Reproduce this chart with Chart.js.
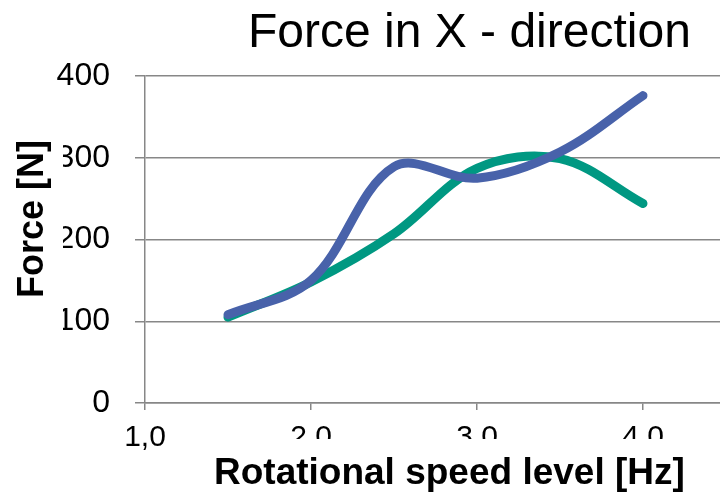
<!DOCTYPE html>
<html>
<head>
<meta charset="utf-8">
<script src="https://cdn.jsdelivr.net/npm/chart.js@4/dist/chart.umd.min.js"></script>
<style>
  body { margin: 0; background: #fff; }
  canvas { display: block; }
</style>
</head>
<body>
<canvas id="myChart" width="720" height="496"></canvas>
<script>
// datos
const speedLevels = [1.5, 2.0, 2.5, 3.0, 3.5, 4.0];
const forceBlue = [108, 150, 289, 275, 307, 376];
const forceTeal = [105, 148, 207, 287, 299, 244];

const xTickValues = [1, 2, 3, 4];
const xTickLabels = ["1,0", "2,0", "3,0", "4,0"];
const yTickValues = [0, 100, 200, 300, 400];

const chartTitle = "Force in X - direction";
const xTitle = "Rotational speed level [Hz]";
const yTitle = "Force [N]";

const grey = "#878787";
const fontFam = "'Liberation Sans', Arial, sans-serif";

// titulos dibujados encima (con su caja blanca como en el original)
const titlesPlugin = {
    id: "titles",
    afterDraw(chart) {
        const c = chart.ctx;
        c.save();
        c.fillStyle = "#fff";
        c.fillRect(0, 128, 63, 212);
        c.fillRect(166, 439, 554, 57);
        c.fillStyle = "#000";
        c.textBaseline = "alphabetic";
        c.textAlign = "left";
        c.font = "normal 48px " + fontFam;
        c.fillText(chartTitle, 248, 47);
        c.font = "bold 37px " + fontFam;
        c.fillText(xTitle, 214, 484);
        c.font = "bold 36px " + fontFam;
        c.translate(43, 219);
        c.rotate(-Math.PI / 2);
        c.textAlign = "center";
        c.fillText(yTitle, 0, 0);
        c.restore();
    }
};

const ctx = document.getElementById("myChart").getContext("2d");
const chart = new Chart(ctx, {
    type: "line",
    data: {
        datasets: [
            {
                label: "blue",
                data: speedLevels.map((x, i) => ({ x: x, y: forceBlue[i] })),
                borderColor: "#4862aa",
                borderWidth: 9,
                borderCapStyle: "round",
                borderJoinStyle: "round",
                pointRadius: 0,
                tension: 0.35,
                fill: false
            },
            {
                label: "teal",
                data: speedLevels.map((x, i) => ({ x: x, y: forceTeal[i] })),
                borderColor: "#009882",
                borderWidth: 9,
                borderCapStyle: "round",
                borderJoinStyle: "round",
                pointRadius: 0,
                tension: 0.35,
                fill: false
            }
        ]
    },
    options: {
        responsive: false,
        animation: false,
        devicePixelRatio: 1,
        layout: { padding: { top: 76, left: 0, right: 0, bottom: 0 } },
        plugins: {
            legend: { display: false },
            tooltip: { enabled: false },
            title: { display: false }
        },
        scales: {
            x: {
                type: "linear",
                min: 1,
                max: 4.464,
                afterFit: (s) => { s.height = 93; },
                afterBuildTicks: (s) => { s.ticks = xTickValues.map(v => ({ value: v })); },
                border: { color: grey, width: 1.5 },
                grid: { drawOnChartArea: false, drawTicks: true, tickLength: 7, color: grey, lineWidth: 1.5 },
                ticks: {
                    padding: 10,
                    color: "#000",
                    font: { family: fontFam, size: 30 },
                    maxRotation: 0,
                    callback: (v) => xTickLabels[xTickValues.indexOf(v)]
                }
            },
            y: {
                min: 0,
                max: 400,
                afterFit: (s) => { s.width = 145; },
                afterBuildTicks: (s) => { s.ticks = yTickValues.map(v => ({ value: v })); },
                border: { color: grey, width: 1.5 },
                grid: { color: grey, lineWidth: 1.5, drawTicks: true, tickLength: 10 },
                ticks: {
                    padding: 25,
                    color: "#000",
                    font: { family: fontFam, size: 32 }
                }
            }
        }
    },
    plugins: [titlesPlugin]
});
</script>
</body>
</html>
